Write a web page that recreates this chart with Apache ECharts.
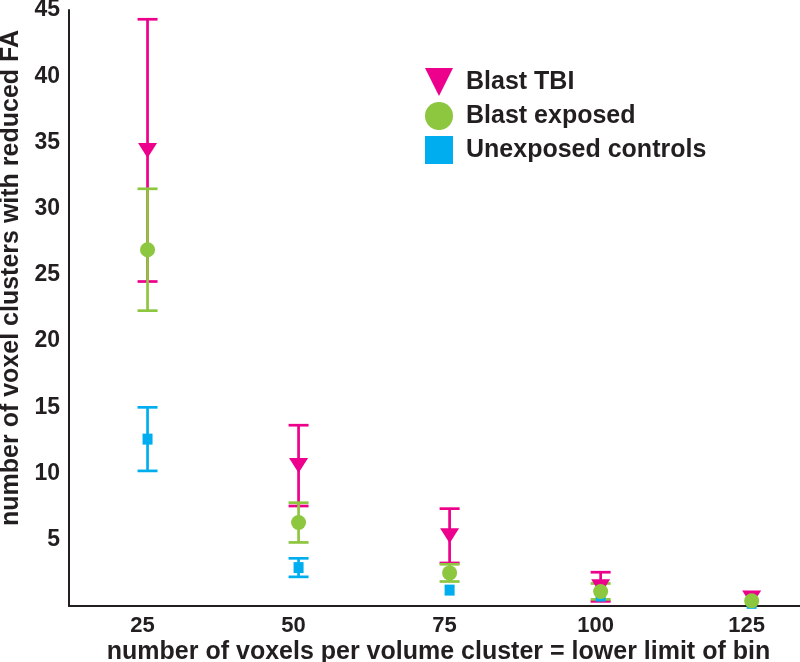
<!DOCTYPE html>
<html>
<head>
<meta charset="utf-8">
<script src="https://cdn.jsdelivr.net/npm/echarts@6/dist/echarts.min.js"></script>
<style>
html,body{margin:0;padding:0;background:#fff;}
#chart{width:800px;height:662px;}
</style>
</head>
<body>
<div id="chart"></div>
<script>
// ---- data ----
const xValues = [25, 50, 75, 100, 125];
const tickLabels = [25, 50, 75, 100, 125];

const tbiMean = [34.4, 10.6, 5.3, 1.45, 0.6];
const tbiErr  = [9.9, 3.05, 2.05, 1.1, 0];

const exposedMean = [26.9, 6.3, 2.5, 1.1, 0.4];
const exposedErr  = [4.6, 1.5, 0.65, 0.6, 0];

const controlMean = [12.6, 2.9, 1.2, 0.75, 0.2];
const controlErr  = [2.4, 0.7, 0, 0, 0];

const seriesNames = ['Blast TBI', 'Blast exposed', 'Unexposed controls'];
const colors = ['#ec008c', '#8dc63f', '#00aeef'];

// ---- chart ----
const FONT = '"Liberation Sans", Arial, Helvetica, sans-serif';
const TEXT = '#231f20';

function errorSeries(name, mean, err, color) {
  return {
    type: 'custom',
    name: name + ' error',
    silent: true,
    data: xValues.map((x, i) => [x, mean[i], err[i]]),
    encode: { x: 0, y: 1 },
    renderItem: function (params, api) {
      const x = api.value(0), m = api.value(1), e = api.value(2);
      if (!e) return null;
      const top = api.coord([x, m + e]);
      const bot = api.coord([x, m - e]);
      const hw = 10;
      const st = { stroke: color, lineWidth: 2.7 };
      return {
        type: 'group',
        children: [
          { type: 'line', shape: { x1: top[0], y1: top[1], x2: bot[0], y2: bot[1] }, style: st },
          { type: 'line', shape: { x1: top[0] - hw, y1: top[1], x2: top[0] + hw, y2: top[1] }, style: st },
          { type: 'line', shape: { x1: bot[0] - hw, y1: bot[1], x2: bot[0] + hw, y2: bot[1] }, style: st }
        ]
      };
    }
  };
}

function markerSeries(name, mean, color, symbol, size, rotate) {
  return {
    type: 'scatter',
    name: name,
    data: xValues.map((x, i) => [x, mean[i]]),
    symbol: symbol,
    symbolSize: size,
    symbolRotate: rotate || 0,
    itemStyle: { color: color, opacity: 1 },
    silent: true
  };
}

const option = {
  animation: false,
  backgroundColor: '#ffffff',
  grid: { left: 69, right: 0, top: 10, bottom: 56, containLabel: false, outerBoundsMode: 'none' },
  legend: {
    orient: 'vertical',
    left: 425,
    top: 68,
    padding: 0,
    itemWidth: 30,
    itemHeight: 28,
    itemGap: 6,
    selectedMode: false,
    data: [
      { name: seriesNames[0], icon: 'path://M0,0L20,0L10,20Z' },
      { name: seriesNames[1], icon: 'circle' },
      { name: seriesNames[2], icon: 'path://M0,0H10V10H0Z' }
    ],
    textStyle: { fontFamily: FONT, fontWeight: 'bold', fontSize: 25, color: TEXT, lineHeight: 28, padding: [0, 0, 0, 7] }
  },
  xAxis: {
    type: 'value',
    min: 12,
    max: 133,
    name: 'number of voxels per volume cluster = lower limit of bin',
    nameLocation: 'middle',
    nameGap: 34,
    nameMoveOverlap: false,
    nameTextStyle: { fontFamily: FONT, fontWeight: 'bold', fontSize: 25, color: TEXT, padding: [0, 0, 0, 8] },
    axisLine: { show: true, lineStyle: { color: TEXT, width: 2 } },
    axisTick: { show: false },
    splitLine: { show: false },
    axisLabel: {
      customValues: tickLabels,
      fontFamily: FONT, fontWeight: 'bold', fontSize: 22, color: TEXT, margin: 9,
      padding: [0, 10, 0, 0]
    }
  },
  yAxis: {
    type: 'value',
    min: 0,
    max: 45,
    interval: 5,
    name: 'number of voxel clusters with reduced FA',
    nameLocation: 'middle',
    nameGap: 45,
    nameMoveOverlap: false,
    nameTextStyle: { fontFamily: FONT, fontWeight: 'bold', fontSize: 25, color: TEXT, padding: [0, 0, 0, 60] },
    axisLine: { show: true, lineStyle: { color: TEXT, width: 2 } },
    axisTick: { show: false },
    splitLine: { show: false },
    axisLabel: {
      formatter: v => (v === 0 ? '' : String(v)),
      fontFamily: FONT, fontWeight: 'bold', fontSize: 23, color: TEXT, margin: 9
    }
  },
  series: [
    errorSeries(seriesNames[2], controlMean, controlErr, colors[2]),
    markerSeries(seriesNames[2], controlMean, colors[2], 'rect', [10, 11]),
    errorSeries(seriesNames[0], tbiMean, tbiErr, colors[0]),
    markerSeries(seriesNames[0], tbiMean, colors[0], 'triangle', [19, 15], 180),
    errorSeries(seriesNames[1], exposedMean, exposedErr, colors[1]),
    markerSeries(seriesNames[1], exposedMean, colors[1], 'circle', 15)
  ]
};

const chart = echarts.init(document.getElementById('chart'), null, { renderer: 'canvas' });
chart.setOption(option);
</script>
</body>
</html>
